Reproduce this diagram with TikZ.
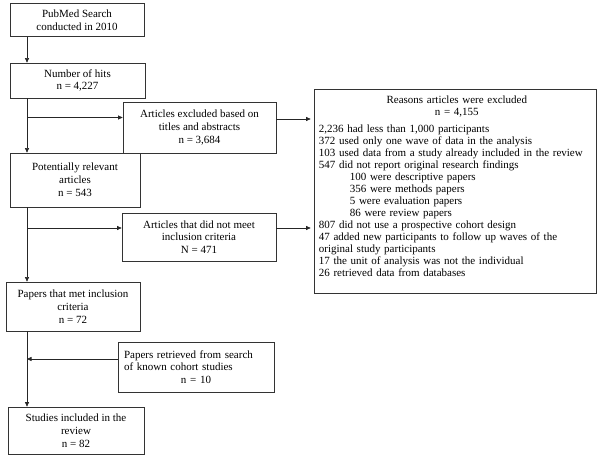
\documentclass[tikz,border=0pt]{standalone}
\usepackage{fontspec}
\setmainfont{Liberation Serif}
\usetikzlibrary{arrows.meta}

\begin{document}
\begin{tikzpicture}[x=1pt, y=-1pt, font=\fontsize{11}{12.8}\selectfont,
  box/.style={draw=black!80, line width=0.7pt, align=center, inner sep=2pt},
  arr/.style={-{Triangle[length=4.5pt,width=4pt]}, draw=black!85, line width=0.6pt}]
\useasboundingbox (0,0) rectangle (600,457);
\coordinate (spine) at (27,0);
% main column
\node[box, minimum width=134pt, minimum height=33pt] (search) at (77,20) {PubMed Search\\conducted in 2010};
\node[box, minimum width=135pt, minimum height=35pt] (hits) at (77.5,80.5) {Number of hits\\n = 4,227};
\node[box, minimum width=130pt, minimum height=54pt] (relevant) at (75,180) {Potentially relevant\\articles\\n = 543};
\node[box, minimum width=134pt, minimum height=49pt] (met) at (73,306.5) {Papers that met inclusion\\criteria\\n = 72};
\node[box, minimum width=136pt, minimum height=47pt] (included) at (76,430.5) {Studies included in the\\review\\n = 82};
% side boxes
\node[box, minimum width=153pt, minimum height=51pt] (titles) at (199.5,127.5) {Articles excluded based on\\titles and abstracts\\n = 3,684};
\node[box, minimum width=154pt, minimum height=48pt] (criteria) at (199,237) {Articles that did not meet\\inclusion criteria\\N = 471};
\node[box, minimum width=156pt, minimum height=50pt, text width=144pt, align=left] (retrieved) at (196,367)
  {Papers retrieved from search\\of known cohort studies\par{\centering n = 10\par}};
\node[box, minimum width=282pt, minimum height=204pt] (reasons) at (455,191) {};
\node[anchor=north west, text width=276pt, align=left, inner sep=0pt, font=\fontsize{11}{12}\selectfont] (reasonlist) at ([xshift=5pt,yshift=-7pt]reasons.north west)
  {{\centering Reasons articles were excluded\\n = 4,155\par}\vspace{5pt}
   2,236 had less than 1,000 participants\\
   372 used only one wave of data in the analysis\\
   103 used data from a study already included in the review\\
   547 did not report original research findings\\
   \hspace*{31pt}100 were descriptive papers\\
   \hspace*{31pt}356 were methods papers\\
   \hspace*{31pt}5 were evaluation papers\\
   \hspace*{31pt}86 were review papers\\
   807 did not use a prospective cohort design\\
   47 added new participants to follow up waves of the\\
   original study participants\\
   17 the unit of analysis was not the individual\\
   26 retrieved data from databases};
% branch points
\coordinate (toTitles) at ([yshift=10pt]titles.west);
\coordinate (fromTitles) at ([yshift=8.5pt]titles.east);
\coordinate (toCriteria) at ([yshift=9pt]criteria.west);
\coordinate (fromCriteria) at ([yshift=9pt]criteria.east);
\coordinate (fromRetrieved) at ([yshift=8pt]retrieved.west);
% connectors
\draw[arr] (search.south -| spine) -- (hits.north -| spine);
\draw[arr] (hits.south -| spine) -- (relevant.north -| spine);
\draw[arr] (toTitles -| spine) -- (toTitles);
\draw[arr, shorten >=3pt] (fromTitles) -- (fromTitles -| reasons.west);
\draw[arr] (relevant.south -| spine) -- (met.north -| spine);
\draw[arr] (toCriteria -| spine) -- (toCriteria);
\draw[arr, shorten >=3pt] (fromCriteria) -- (fromCriteria -| reasons.west);
\draw[arr] (met.south -| spine) -- (included.north -| spine);
\draw[arr] (fromRetrieved) -- (fromRetrieved -| spine);
\end{tikzpicture}
\end{document}
